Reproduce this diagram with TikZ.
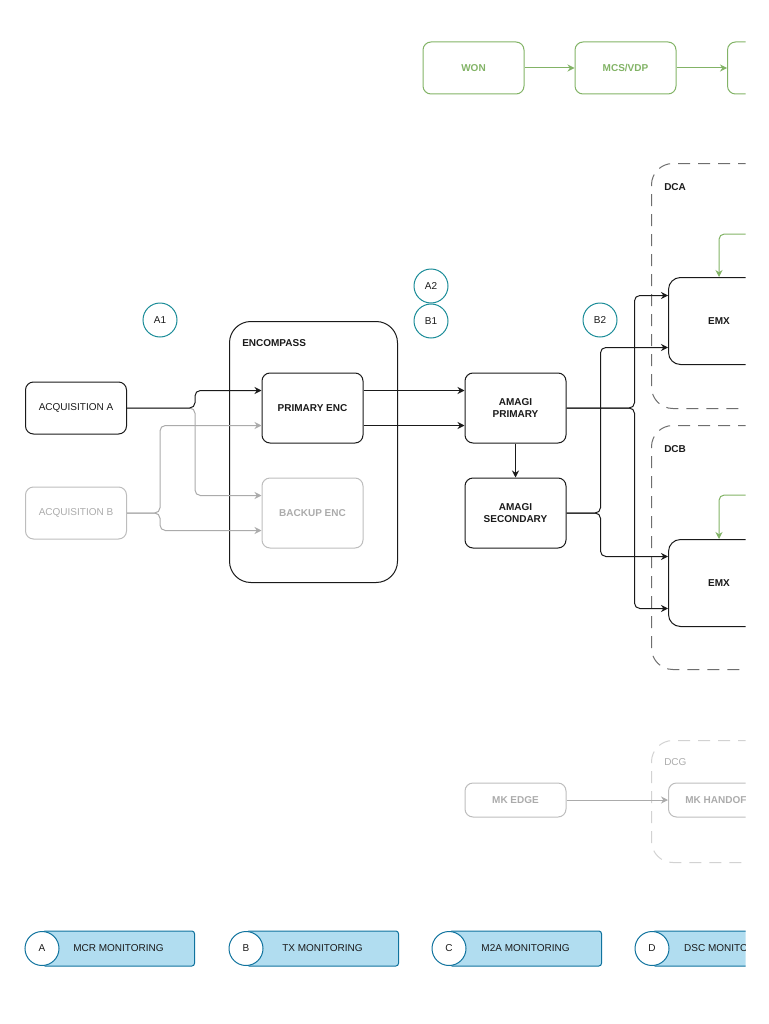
\documentclass[tikz,border=0pt]{standalone}
\usepackage{fontspec}
\setmainfont{Liberation Sans}
\usetikzlibrary{arrows.meta,calc}
\newlength\pxu \setlength\pxu{0.75pt}
\definecolor{grn}{HTML}{82B366}
\definecolor{gbc}{HTML}{BDBDBD}
\definecolor{gtc}{HTML}{ABABAB}
\definecolor{teal}{HTML}{1B8C98}
\definecolor{mfill}{HTML}{B1DDF0}
\definecolor{mdraw}{HTML}{10739E}
\definecolor{dashc}{HTML}{6E6E6E}
\definecolor{dashl}{HTML}{D2D2D2}
\definecolor{ink}{HTML}{1A1A1A}
\tikzset{
  box/.style={draw, rounded corners=6pt, minimum width=101\pxu, minimum height=52\pxu, align=center, line width=0.75pt, inner sep=0pt},
  blk/.style={box, draw=ink, text=ink},
  gry/.style={box, draw=gbc, text=gtc},
  grnbox/.style={box, draw=grn, text=grn, font=\fontsize{7.5}{9}\selectfont\bfseries},
  conn/.style={line width=0.75pt, draw=ink, -{Stealth[length=5.25pt,width=5.25pt]}, rounded corners=4pt},
  gconn/.style={conn, draw=gtc},
  grconn/.style={conn, draw=grn},
  dashbox/.style={draw=dashc, dash pattern=on 9pt off 6pt, line width=0.75pt, rounded corners=16pt, minimum width=160\pxu, inner sep=0pt},
  circ/.style={circle, draw=teal, line width=0.75pt, minimum size=34\pxu, inner sep=0pt, text=ink},
  bar/.style={draw=mdraw, fill=mfill, line width=0.75pt, rounded corners=2pt, minimum width=152\pxu, minimum height=35\pxu, inner sep=0pt, text=ink},
  mcirc/.style={circle, draw=mdraw, fill=white, line width=0.75pt, minimum size=34\pxu, inner sep=0pt, text=ink},
  lbl/.style={inner sep=0pt, text=ink, font=\fontsize{7.5}{9}\selectfont\bfseries},
  bld/.style={font=\fontsize{7.5}{9}\selectfont\bfseries}
}
\begin{document}
\begin{tikzpicture}[x=0.75pt,y=-0.75pt, font=\fontsize{7.5}{9}\selectfont]
\useasboundingbox (0,0) rectangle (768,1024);
\begin{scope}
\clip (0,0) rectangle (745.5,1024);
% top green chain
\node[grnbox] (won) at (473.5,68) {WON};
\node[grnbox] (mcs) at (625.5,68) {MCS/VDP};
\node[grnbox, anchor=west] (nxt) at (727,68) {};
\draw[grconn] (won) -- (mcs);
\draw[grconn] (mcs) -- (nxt);

% containers
\node[dashbox, minimum height=245\pxu, anchor=north west] (dca) at (651,163) {};
\node[lbl, anchor=west] (dcal) at (664,187) {DCA};
\node[dashbox, minimum height=244\pxu, anchor=north west] (dcb) at (651,425) {};
\node[lbl, anchor=west] (dcbl) at (664,449) {DCB};
\node[dashbox, draw=dashl, minimum height=122\pxu, anchor=north west] (dcg) at (651,740) {};
\node[lbl, anchor=west, text=gtc, font=\fontsize{7.5}{9}\selectfont] (dcgl) at (664,762) {DCG};

\node[blk, bld, rounded corners=9pt, minimum height=87\pxu, anchor=north west] (emx1) at (668,277) {EMX};
\node[blk, bld, rounded corners=9pt, minimum height=87\pxu, anchor=north west] (emx2) at (668,539) {EMX};
\coordinate (g1) at (770,234);
\coordinate (g2) at (770,495);
\draw[grconn] (g1) -| (emx1.north);
\draw[grconn] (g2) -| (emx2.north);

% encompass
\node[draw=ink, line width=0.75pt, rounded corners=16pt, minimum width=168\pxu, minimum height=261\pxu, anchor=north west, inner sep=0pt] (encp) at (229,321) {};
\node[lbl, anchor=west] (encl) at (242,343) {ENCOMPASS};

% circles
\node[circ] (a1) at (160,320) {A1};
\node[circ] (a2) at (431,286) {A2};
\node[circ] (b1) at (431,321) {B1};
\node[circ] (b2) at (600,320) {B2};

% nodes
\node[blk] (acqa) at (76,408) {ACQUISITION A};
\node[gry] (acqb) at (76,513) {ACQUISITION B};
\node[blk, bld, minimum height=70\pxu] (penc) at (312.5,408) {PRIMARY ENC};
\node[gry, bld, minimum height=70\pxu] (benc) at (312.5,513) {BACKUP ENC};
\node[blk, bld, minimum height=70\pxu] (apri) at (515.5,408) {AMAGI\\PRIMARY};
\node[blk, bld, minimum height=70\pxu] (asec) at (515.5,513) {AMAGI\\SECONDARY};
\node[gry, bld, minimum height=34\pxu] (mke) at (515.5,800) {MK EDGE};
\node[gry, bld, minimum height=34\pxu, anchor=west] (mkh) at (668,800) {MK HANDOFF};

% connectors
\draw[gconn] (acqa.east) -- ++(68,0) |- ($(benc.west)+(0,-17.5)$);
\draw[gconn] (acqb.east) -- ++(33,0) |- ($(penc.west)+(0,17.5)$);
\draw[gconn] (acqb.east) -- ++(33,0) |- ($(benc.west)+(0,17.5)$);
\draw[conn] (acqa.east) -- ++(68,0) |- ($(penc.west)+(0,-17.5)$);
\draw[conn] ($(penc.east)+(0,-17.5)$) -- ($(apri.west)+(0,-17.5)$);
\draw[conn] ($(penc.east)+(0,17.5)$) -- ($(apri.west)+(0,17.5)$);
\draw[conn] (apri.south) -- (asec.north);
\draw[conn] (apri.east) -- ++(68,0) |- ($(emx1.west)+(0,-25.5)$);
\draw[conn] (apri.east) -- ++(68,0) |- ($(emx2.west)+(0,25.5)$);
\draw[conn] (asec.east) -- ++(34,0) |- ($(emx1.west)+(0,26.5)$);
\draw[conn] (asec.east) -- ++(34,0) |- ($(emx2.west)+(0,-26.5)$);
\draw[gconn] (mke) -- (mkh);

% monitoring legend
\node[bar, anchor=west] (barA) at (42,948.5) {MCR MONITORING};
\node[mcirc] (ca) at (42,948.5) {A};
\node[bar, anchor=west] (barB) at (246,948.5) {TX MONITORING};
\node[mcirc] (cb) at (246,948.5) {B};
\node[bar, anchor=west] (barC) at (449,948.5) {M2A MONITORING};
\node[mcirc] (cc) at (449,948.5) {C};
\node[bar, anchor=west] (barD) at (652,948.5) {DSC MONITORING};
\node[mcirc] (cd) at (652,948.5) {D};
\end{scope}
\end{tikzpicture}
\end{document}
